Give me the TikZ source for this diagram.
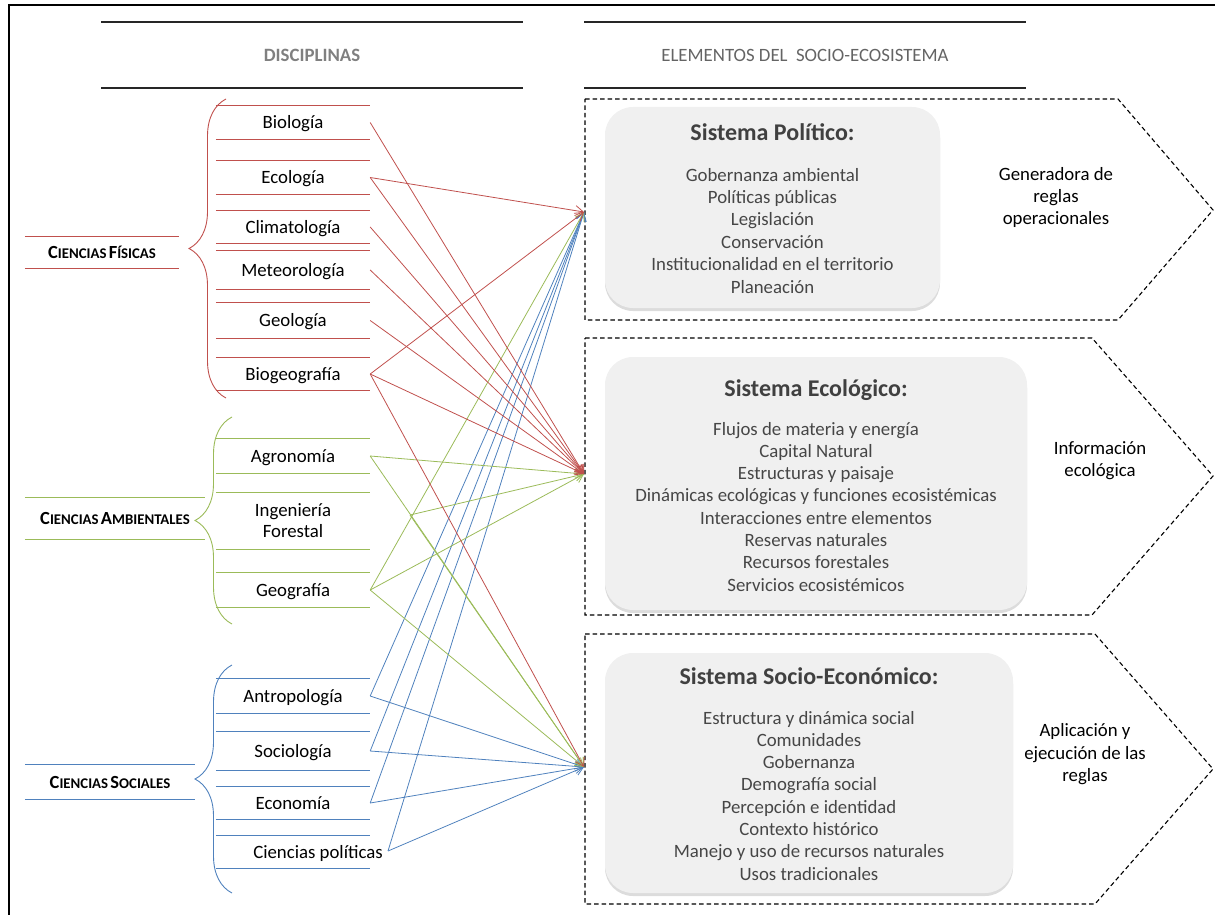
\documentclass[tikz,border=0pt]{standalone}
\usepackage{fontspec}
\setmainfont{Carlito}
\usetikzlibrary{arrows.meta,decorations.pathreplacing,shadows}
\definecolor{cred}{RGB}{192,80,77}
\definecolor{cgreen}{RGB}{155,187,89}
\definecolor{cblue}{RGB}{79,129,189}
\definecolor{boxfill}{RGB}{240,240,240}
\definecolor{txtgray}{RGB}{70,70,70}
\definecolor{titgray}{RGB}{64,64,64}
\definecolor{hdrgray}{RGB}{128,128,128}
\definecolor{hdrtwo}{RGB}{100,100,100}
\newcommand\mysc[2]{{\fontsize{18.5}{20}\selectfont #1}{\fontsize{14.8}{20}\selectfont #2}}
\begin{document}
\begin{tikzpicture}[x=1pt,y=-1pt,
  every node/.style={inner sep=0pt},
  disc/.style={minimum width=154pt, text height=12pt, text depth=0pt, align=center,
    font=\fontsize{18.8}{21}\selectfont},
  grp/.style={text height=12pt, text depth=0pt, font=\bfseries},
  conn/.style={line width=0.8pt, -{Straight Barb[length=8pt,width=10pt]}},
  cont/.style={draw=black, line width=1.1pt, dash pattern=on 4.5pt off 3pt},
  gbox/.style={fill=boxfill, rounded corners=28pt,
    drop shadow={opacity=0.28, shadow xshift=0pt, shadow yshift=-3pt}},
  item/.style={anchor=base, text=txtgray, font=\fontsize{18.8}{22}\selectfont},
  title/.style={anchor=base, text=titgray, font=\fontsize{24}{28}\selectfont\bfseries},
  side/.style={anchor=base, font=\fontsize{18.8}{22}\selectfont},
  hline/.style={line width=1.3pt, draw=black!85},
  gline/.style={line width=0.9pt},
  brace/.style={decorate, decoration={brace, amplitude=37pt, aspect=0.5}, line width=0.9pt}
]
\useasboundingbox (0,0) rectangle (1215,915);
% frame
\draw[line width=1.6pt] (9,940) -- (9,5) -- (1240,5);

% headers
\draw[hline] (101,22) -- (523,22) (101,88) -- (523,88);
\draw[hline] (584,22) -- (1026,22) (584,88) -- (1026,88);
\node[anchor=base, font=\fontsize{18.8}{22}\selectfont\bfseries, text=hdrgray] (hdis) at (312,62) {DISCIPLINAS};
\node[anchor=base, font=\fontsize{18.8}{22}\selectfont, text=hdrtwo] (hele) at (805,62) {ELEMENTOS DEL\ \ SOCIO-ECOSISTEMA};

% dashed containers
\draw[cont] (585,99) -- (1118,99) -- (1213,210) -- (1118,320) -- (585,320) -- cycle;
\draw[cont] (585,338) -- (1092,338) -- (1213,476) -- (1092,615) -- (585,615) -- cycle;
\draw[cont] (585,634) -- (1095,634) -- (1213,769) -- (1095,904) -- (585,904) -- cycle;
\coordinate (tP) at (584,212);
\coordinate (tE) at (584,474);
\coordinate (tS) at (584,767);

% grey boxes
\node[gbox, minimum width=335pt, minimum height=201pt] (bP) at (772.5,207.5) {};
\node[gbox, minimum width=422pt, minimum height=253pt] (bE) at (816,483.5) {};
\node[gbox, minimum width=408pt, minimum height=240pt] (bS) at (809,773) {};

\node[title] (tiP) at (772.5,141) {Sistema Político:};
\foreach \t [count=\i from 0] in {Gobernanza ambiental,Políticas públicas,Legislación,Conservación,Institucionalidad en el territorio,Planeación}
  \node[item] (iP\i) at (772.5,{181+22.4*\i}) {\t};

\node[title] (tiE) at (816,396) {Sistema Ecológico:};
\foreach \t [count=\i from 0] in {Flujos de materia y energía,Capital Natural,Estructuras y paisaje,Dinámicas ecológicas y funciones ecosistémicas,Interacciones entre elementos,Reservas naturales,Recursos forestales,Servicios ecosistémicos}
  \node[item] (iE\i) at (816,{435+22.3*\i}) {\t};

\node[title] (tiS) at (809,684) {Sistema Socio-Económico:};
\foreach \t [count=\i from 0] in {Estructura y dinámica social,Comunidades,Gobernanza,Demografía social,Percepción e identidad,Contexto histórico,Manejo y uso de recursos naturales,Usos tradicionales}
  \node[item] (iS\i) at (809,{724+22.3*\i}) {\t};

% side texts
\node[side] (sP1) at (1056,180) {Generadora de};
\node[side] (sP2) at (1056,202) {reglas};
\node[side] (sP3) at (1056,224) {operacionales};
\node[side] (sE1) at (1100,454) {Información};
\node[side] (sE2) at (1100,476) {ecológica};
\node[side] (sS1) at (1085,736) {Aplicación y};
\node[side] (sS2) at (1085,759) {ejecución de las};
\node[side] (sS3) at (1085,781) {reglas};

% group labels
\node[grp, minimum width=154pt, minimum height=31pt] (lfis) at (102,252.5) {\mysc{C}{IENCIAS} \mysc{F}{ÍSICAS}};
\node[grp, minimum width=180pt, minimum height=41pt] (lamb) at (115,518.5) {\mysc{C}{IENCIAS} \mysc{A}{MBIENTALES}};
\node[grp, minimum width=170pt, minimum height=34pt] (lsoc) at (110,782) {\mysc{C}{IENCIAS} \mysc{S}{OCIALES}};

% braces
\draw[brace, cred] (226,398) -- (226,99);
\draw[brace, cgreen] (232,624) -- (232,417);
\draw[brace, cblue] (232,893) -- (232,665);

% disciplines
\node[disc, minimum height=33pt] (bio) at (293,122.5) {Biología};
\node[disc, minimum height=33pt] (eco) at (293,177.5) {Ecología};
\node[disc, minimum height=32pt] (cli) at (293,227) {Climatología};
\node[disc, minimum height=38pt] (met) at (293,270) {Meteorología};
\node[disc, minimum height=35pt] (geo) at (293,320.5) {Geología};
\node[disc, minimum height=32pt] (biog) at (293,374) {Biogeografía};
\node[disc, minimum height=34pt] (agr) at (293,456) {Agronomía};
\node[disc, minimum height=56pt, text height=33pt] (ing) at (293,521) {Ingeniería\\Forestal};
\node[disc, minimum height=34pt] (geog) at (293,590) {Geografía};
\node[disc, minimum height=34pt] (ant) at (293,696) {Antropología};
\node[disc, minimum height=38pt] (soc) at (293,751) {Sociología};
\node[disc, minimum height=32pt] (econ) at (293,803) {Economía};
\node[disc, minimum height=32pt] (cp) at (293,852) {};
\node[disc, minimum width=0pt] (cpt) at (318,852) {Ciencias políticas};

\foreach \n/\c in {bio/cred,eco/cred,cli/cred,met/cred,geo/cred,biog/cred,lfis/cred,
  agr/cgreen,ing/cgreen,geog/cgreen,lamb/cgreen,ant/cblue,soc/cblue,econ/cblue,cp/cblue,lsoc/cblue}
  \draw[gline, \c] (\n.north west) -- (\n.north east) (\n.south west) -- (\n.south east);

\coordinate (ingout) at (410,515);
\coordinate (cpout) at (388,851);

% connectors
\foreach \s/\t in {ant/tP,ant/tS,soc/tP,soc/tS,econ/tP,econ/tS}
  \draw[conn, cblue] (\s.east) -- (\t);
\draw[conn, cblue] (cpout) -- (tP);
\draw[conn, cblue] (cpout) -- (tS);
\foreach \s/\t in {agr/tE,agr/tS,geog/tP,geog/tE,geog/tS}
  \draw[conn, cgreen] (\s.east) -- (\t);
\draw[conn, cgreen] (ingout) -- (tE);
\draw[conn, cgreen] (ingout) -- (tS);
\foreach \s/\t in {bio/tE,eco/tP,eco/tE,cli/tE,met/tE,geo/tE,biog/tP,biog/tE,biog/tS}
  \draw[conn, cred] (\s.east) -- (\t);
\end{tikzpicture}
\end{document}
